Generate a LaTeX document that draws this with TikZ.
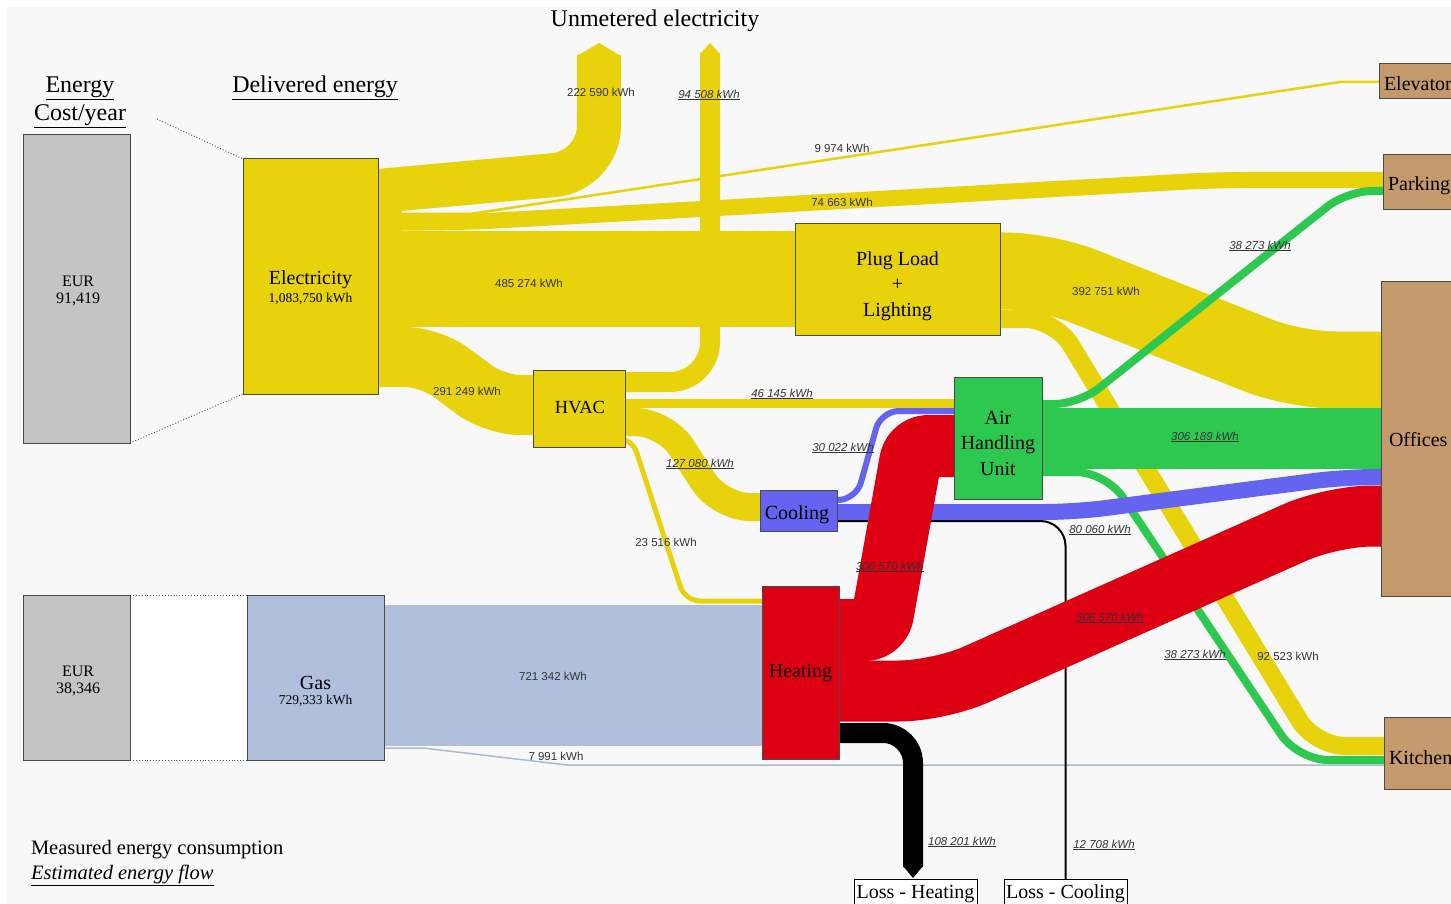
\documentclass[tikz,border=0pt]{standalone}
\usepackage{fontspec}
\setmainfont{Liberation Serif}
\newfontfamily\labfont{Liberation Sans}
\definecolor{bgc}{HTML}{F8F8F8}
\definecolor{yel}{HTML}{E8D20C}
\definecolor{grn}{HTML}{2CC850}
\definecolor{blu}{HTML}{6464F0}
\definecolor{rd}{HTML}{DD0012}
\definecolor{tanc}{HTML}{C49A6C}
\definecolor{gbox}{HTML}{C4C4C4}
\definecolor{gasc}{HTML}{B0C0DC}
\definecolor{gasl}{HTML}{A9BAD3}
\definecolor{bord}{HTML}{4A4A4A}
\definecolor{labc}{HTML}{333333}
\newcommand{\est}[1]{\underline{\textit{#1}}}
\begin{document}
\begin{tikzpicture}[x=1pt, y=-1pt,
  every node/.style={inner sep=0pt, outer sep=0pt},
  box/.style={draw=bord, line width=1pt},
  lab/.style={font=\labfont\fontsize{11.5}{13}\selectfont, text=labc},
  big/.style={font=\fontsize{20}{25.5}\selectfont, align=center},
  ttl/.style={font=\fontsize{24}{28}\selectfont, align=center},
  band/.style={line cap=butt, line join=round}]
\useasboundingbox (0,0) rectangle (1451,904);
\clip (0,0) rectangle (1451,904);
\fill[white] (0,0) rectangle (1451,904);
\fill[bgc] (7,7) rectangle (1451,904);

% ---------- nodes (geometry) ----------
\node[box, fill=gbox, minimum width=107, minimum height=308] (eur1) at (76.5,289) {};
\node[box, fill=yel, minimum width=135, minimum height=235] (elec) at (310.5,276.5) {};
\node[box, fill=gbox, minimum width=107, minimum height=165] (eur2) at (76.5,677.5) {};
\node[box, fill=gasc, minimum width=137, minimum height=165] (gas) at (315.5,677.5) {};
\node[box, fill=yel, minimum width=92, minimum height=77] (hvac) at (579,408.5) {};
\node[box, fill=yel, minimum width=205, minimum height=111] (plug) at (897.5,279.5) {};
\node[box, fill=grn, minimum width=88, minimum height=122] (ahu) at (998,438) {};
\node[box, fill=blu, minimum width=77, minimum height=41] (cool) at (798.5,510.5) {};
\node[box, fill=rd, minimum width=77, minimum height=173] (heat) at (800.5,672.5) {};
\node[box, fill=tanc, minimum width=76, minimum height=35] (elev) at (1417,81.5) {};
\node[box, fill=tanc, minimum width=72, minimum height=55] (park) at (1419,182.5) {};
\node[box, fill=tanc, minimum width=74, minimum height=315] (off) at (1418,438.5) {};
\node[box, fill=tanc, minimum width=71, minimum height=72] (kit) at (1419.5,753) {};
\node[draw=black, line width=1pt, fill=white, minimum width=123, minimum height=27] (lossh) at (915.5,892.5) {};
\node[draw=black, line width=1pt, fill=white, minimum width=123, minimum height=27] (lossc) at (1065.5,892.5) {};
\coordinate (um1) at (599,55);
\coordinate (um2) at (710,53);
\coordinate (dl) at (157,119);

% ---------- flows ----------
\begin{scope}[band]
% gas
\fill[gasc] (gas.east |- 0,605) rectangle (heat.west |- 0,746);
\draw[gasl, line width=1.5] (gas.east |- 0,748) -- (423,748) -- (567,765) -- (kit.west |- 0,765);
% electricity
\fill[yel] (elec.east |- 0,169) rectangle (402,386);
\draw[yel, line width=44, rounded corners=45] (elec.east |- 0,191) -- (599,171) -- (um1);
\fill[yel] (577,56) -- (599,43) -- (621,56) -- cycle;
\draw[yel, line width=2.5] (elec.east |- 0,214) -- (470,214) -- (1340,82) -- (elev.west |- 0,82);
\draw[yel, line width=16, rounded corners=30] (elec.east |- 0,223) -- (470,222) -- (1215,180) -- (park.west |- 0,180);
\draw[yel, line width=96] (elec.east |- 0,279) -- (plug.west |- 0,279);
\draw[yel, line width=60, rounded corners=25] (elec.east |- 0,357) -- (430,357) -- (495,405) -- (hvac.west |- 0,405);
% hvac
\draw[yel, line width=20, rounded corners=40] (hvac.east |- 0,382) -- (710,382) -- (um2);
\fill[yel] (700,54) -- (710,43) -- (720,54) -- cycle;
\draw[yel, line width=9] (hvac.east |- 0,403) -- (ahu.west |- 0,403);
\draw[yel, line width=28, rounded corners=30] (hvac.east |- 0,422) -- (665,422) -- (720,507) -- (cool.west |- 0,507);
\draw[yel, line width=5, rounded corners=15] (hvac.east |- 0,438) -- (632,438) -- (685,601) -- (heat.west |- 0,601);
% plug load
\draw[yel, line width=77, rounded corners=40] (plug.east |- 0,271) -- (1045,271) -- (1295,370) -- (off.west |- 0,370);
\draw[yel, line width=18, rounded corners=30] (plug.east |- 0,319) -- (1055,319) -- (1315,746) -- (kit.west |- 0,746);
% air handling unit
\draw[grn, line width=61] (ahu.east |- 0,438) -- (off.west |- 0,438);
\draw[grn, line width=8, rounded corners=25] (ahu.east |- 0,404) -- (1079,404) -- (1347,191) -- (park.west |- 0,191);
\draw[grn, line width=8, rounded corners=30] (ahu.east |- 0,472) -- (1106,472) -- (1298,760) -- (kit.west |- 0,760);
% cooling
\draw[black, line width=2, rounded corners=25] (cool.east |- 0,521) -- (lossc.north |- 0,521) -- (lossc.north);
\draw[blu, line width=16, rounded corners=30] (cool.east |- 0,512) -- (1075,512) -- (1345,477) -- (off.west |- 0,477);
\draw[blu, line width=6, rounded corners=18] (cool.east |- 0,500) -- (856,500) -- (881,411) -- (ahu.west |- 0,411);
% heating
\draw[rd, line width=62, rounded corners=15] (heat.east |- 0,630) -- (880,630) -- (913,446) -- (ahu.west |- 0,446);
\draw[rd, line width=61, rounded corners=40] (heat.east |- 0,691) -- (939,691) -- (1332,516) -- (off.west |- 0,516);
\draw[black, line width=20, rounded corners=30] (heat.east |- 0,733) -- (913,733) -- (913,867);
\fill[black] (903,866) -- (913,878) -- (923,866) -- cycle;
\end{scope}

% redraw box outlines on top of flows
\foreach \n in {elec,gas,hvac,plug,ahu,cool,heat,elev,park,off,kit}{
  \draw[bord, line width=1pt] (\n.north west) rectangle (\n.south east);}
\fill[yel] (elec.north west) rectangle (elec.south east);
\draw[bord, line width=1pt] (elec.north west) rectangle (elec.south east);

% dotted connectors
\draw[bord, dotted, line width=0.9] (dl) -- (elec.north west);
\draw[bord, dotted, line width=0.9] (eur1.south east) -- (elec.south west);
\fill[white] (eur2.north east) rectangle (gas.south west);
\draw[bord, dotted, line width=0.9] (eur2.north east) -- (gas.north west);
\draw[bord, dotted, line width=0.9] (eur2.south east) -- (gas.south west);
\draw[bord, line width=1pt] (eur2.north west) rectangle (eur2.south east);
\draw[bord, line width=1pt] (gas.north west) rectangle (gas.south east);

% ---------- box texts ----------
\node[font=\fontsize{16}{17}\selectfont, align=center] (teur1) at (78,291) {EUR\\91,419};
\node[font=\fontsize{16}{17}\selectfont, align=center] (teur2) at (78,681) {EUR\\38,346};
\node[font=\fontsize{20}{22}\selectfont] (telec) at (310.5,280) {Electricity};
\node[font=\fontsize{13.5}{15}\selectfont] (telec2) at (310.5,299) {1,083,750 kWh};
\node[font=\fontsize{20}{22}\selectfont] (tgas) at (315.5,683) {Gas};
\node[font=\fontsize{13.5}{15}\selectfont] (tgas2) at (315.5,701) {729,333 kWh};
\node[font=\fontsize{18.5}{20}\selectfont] (thvac) at (580,408) {HVAC};
\node[big] (tplug) at (897.5,286) {Plug Load\\+\\Lighting};
\node[big] (tahu) at (998,443) {Air\\Handling\\Unit};
\node[font=\fontsize{20}{22}\selectfont] (tcool) at (797,515) {Cooling};
\node[font=\fontsize{20}{22}\selectfont] (theat) at (800.5,673) {Heating};
\node[font=\fontsize{20}{22}\selectfont, anchor=west] (telev) at (1384,84) {Elevator};
\node[font=\fontsize{20}{22}\selectfont, anchor=west] (tpark) at (1388,186) {Parking};
\node[font=\fontsize{20}{22}\selectfont, anchor=west] (toff) at (1389,440) {Offices};
\node[font=\fontsize{20}{22}\selectfont, anchor=west] (tkit) at (1389,758) {Kitchen};
\node[font=\fontsize{20}{22}\selectfont] (tlossh) at (915.5,894) {Loss - Heating};
\node[font=\fontsize{20}{22}\selectfont] (tlossc) at (1065.5,894) {Loss - Cooling};

% ---------- titles ----------
\node[ttl] (t1) at (80,102) {\underline{Energy}\\\underline{Cost/year}};
\node[ttl] (t2) at (315,88) {\underline{Delivered energy}};
\node[ttl] (t3) at (655,21) {Unmetered electricity};
\node[font=\fontsize{20.5}{24}\selectfont, anchor=west] (lg1) at (31,850) {Measured energy consumption};
\node[font=\fontsize{20.5}{24}\selectfont, anchor=west] (lg2) at (31,875) {\underline{\textit{Estimated energy flow}}};

% ---------- flow labels ----------
\node[lab] (l1) at (601,92) {222 590 kWh};
\node[lab] (l2) at (709,95) {\est{94 508 kWh}};
\node[lab] (l3) at (842,148) {9 974 kWh};
\node[lab] (l4) at (842,202) {74 663 kWh};
\node[lab] (l5) at (529,283) {485 274 kWh};
\node[lab] (l6) at (467,391) {291 249 kWh};
\node[lab] (l7) at (782,394) {\est{46 145 kWh}};
\node[lab] (l8) at (843,448) {\est{30 022 kWh}};
\node[lab] (l9) at (700,464) {\est{127 080 kWh}};
\node[lab] (l10) at (666,542) {23 516 kWh};
\node[lab] (l11) at (890,567) {\est{306 570 kWh}};
\node[lab] (l12) at (1100,530) {\est{80 060 kWh}};
\node[lab] (l13) at (1110,618) {\est{306 570 kWh}};
\node[lab] (l14) at (1195,655) {\est{38 273 kWh}};
\node[lab] (l15) at (1288,656) {92 523 kWh};
\node[lab] (l16) at (1260,246) {\est{38 273 kWh}};
\node[lab] (l17) at (1106,291) {392 751 kWh};
\node[lab] (l18) at (1205,437) {\est{306 189 kWh}};
\node[lab] (l19) at (553,676) {721 342 kWh};
\node[lab] (l20) at (556,756) {7 991 kWh};
\node[lab] (l21) at (962,842) {\est{108 201 kWh}};
\node[lab] (l22) at (1104,845) {\est{12 708 kWh}};
\end{tikzpicture}
\end{document}
